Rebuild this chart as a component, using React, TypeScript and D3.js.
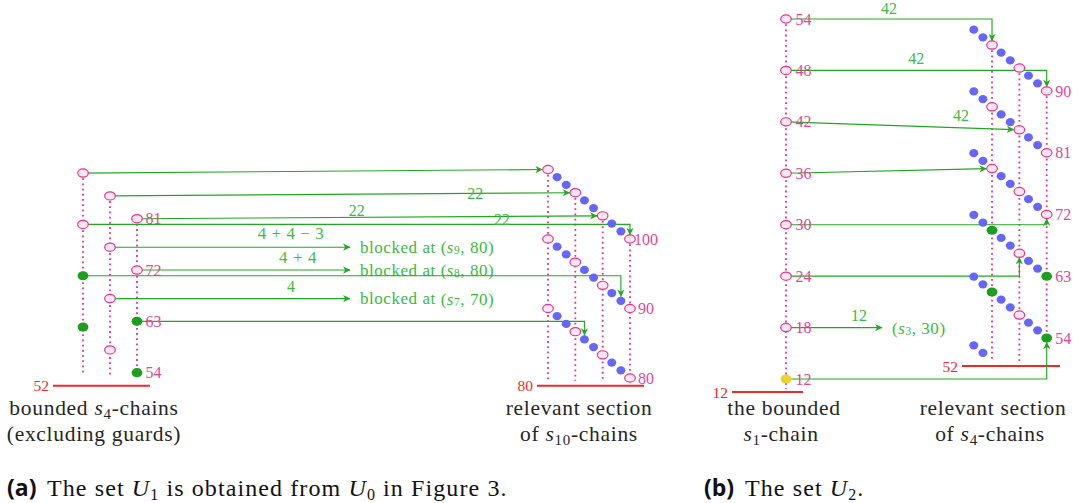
import React from "react";
import * as d3 from "d3";

// ---------------- Panel (a) data ----------------
// three bounded s4-chains (excluding guards), node values from top to bottom
const leftChainsA: number[][] = [
  [89, 80, 71, 62],
  [85, 76, 67, 58],
  [81, 72, 63, 54],
];
const leftFilledA: number[][] = [[71, 62], [], [63, 54]];
const leftLabeledA: number[] = [81, 72, 63, 54];
// relevant section of s10-chains (value at last column)
const s10ChainEndsA: number[] = [100, 90, 80];
const s10ColumnStepsA: number[] = [0, 3, 6, 9];
const s10StepCountA = 9;
const s10SpanA = 10;

type Arrow = {
  from: number[] | number;
  chain?: number;
  step?: number;
  kind: "direct" | "elbow" | "blocked";
  label: string;
  sub?: string;
  at?: string;
  prefix?: string;
};

const arrowsA: Arrow[] = [
  { from: [0, 89], chain: 100, step: 0, kind: "direct", label: "" },
  { from: [1, 85], chain: 100, step: 3, kind: "direct", label: "22" },
  { from: [2, 81], chain: 100, step: 6, kind: "direct", label: "22" },
  { from: [0, 80], chain: 100, step: 9, kind: "elbow", label: "22" },
  { from: [1, 76], kind: "blocked", label: "4 + 4 − 3", prefix: "blocked at ", sub: "9", at: "80" },
  { from: [2, 72], kind: "blocked", label: "4 + 4", prefix: "blocked at ", sub: "8", at: "80" },
  { from: [0, 71], chain: 90, step: 8, kind: "elbow", label: "" },
  { from: [1, 67], kind: "blocked", label: "4", prefix: "blocked at ", sub: "7", at: "70" },
  { from: [2, 63], chain: 80, step: 4, kind: "elbow", label: "" },
];
// label placement: fraction along the horizontal run, vertical offset
const labelPlaceA = [
  [0, 0], [0.785, 0], [0.472, -7], [0.766, -4.5],
  [0.754, -14], [0.756, -13], [0, 0], [0.754, -12], [0, 0],
];

// ---------------- Panel (b) data ----------------
const s1ChainB: number[] = [54, 48, 42, 36, 30, 24, 18, 12];
const s1FilledB: number[] = [12];
const s4ChainEndsB: number[] = [90, 81, 72, 63, 54];
const s4PartialEndB = 44;
const s4ColumnStepsB: number[] = [2, 5, 8];
const s4StepCountB = 8;
const s4StepDropB = 1.117;
const s4GreenB: Record<number, number[]> = { 63: [2, 8], 54: [2, 8] };

const arrowsB: Arrow[] = [
  { from: 54, chain: 90, step: 2, kind: "elbow", label: "42" },
  { from: 48, chain: 90, step: 8, kind: "elbow", label: "42" },
  { from: 42, chain: 81, step: 5, kind: "direct", label: "42" },
  { from: 36, chain: 72, step: 2, kind: "direct", label: "" },
  { from: 30, chain: 72, step: 8, kind: "elbow", label: "" },
  { from: 24, chain: 63, step: 5, kind: "elbow", label: "" },
  { from: 18, kind: "blocked", label: "12", prefix: "", sub: "3", at: "30" },
  { from: 12, chain: 54, step: 8, kind: "elbow", label: "" },
];
const labelPlaceB = [
  [0.5, -10.8], [0.5, -12.4], [0.75, -12.5], [0, 0], [0, 0], [0, 0], [0.76, -12], [0, 0],
];

// bounds (red lines)
const boundLabels = ["52", "80", "12", "52"];

// ---------------- styles ----------------
const PINK = "#e8308c";
const PINK_TXT = "#e54597";
const PINK_FILL = "#fce6f0";
const BLUE = "#6666fb";
const GREEN = "#1e9e1e";
const GREEN_LINE = "#20a820";
const GREEN_TXT = "#3dba3d";
const RED = "#f02828";
const YELLOW = "#ecd22e";
const TEXT = "#262626";
const SERIF = "Liberation Serif, DejaVu Serif, serif";

// ---------------- scales ----------------
const xLeftA = d3.scaleLinear().domain([0, 2]).range([83, 137]);
const yLeftA = d3.scaleLinear().domain([54, 81]).range([372.7, 218.7]);
const xStepA = d3.scaleLinear().domain([0, s10StepCountA]).range([548, 630]);
const yRightA = d3.scaleLinear().domain([80, 100]).range([378, 239]);

const xLeftB = 786;
const yLeftB = d3.scaleLinear().domain([12, 54]).range([379, 19]);
const xStepB = d3.scaleLinear().domain([0, s4StepCountB]).range([973.8, 1046.7]);
const yRightB = d3.scaleLinear().domain([54, 90]).range([338, 91]);

const boundLayout = [
  { x1: 53, x2: 150, y: 385.7 },
  { x1: 537, x2: 644, y: 385.7 },
  { x1: 732, x2: 803, y: 392 },
  { x1: 962, x2: 1060, y: 366 },
];

const R = { open: [5.3, 4.1], blue: [4.5, 4.1], green: [5.4, 4.6] };

function chainValA(end: number, step: number) {
  return end + ((s10StepCountA - step) * s10SpanA) / s10StepCountA;
}
function chainValB(end: number, step: number) {
  return end + (s4StepCountB - step) * s4StepDropB;
}

function Node({ x, y, kind }: { x: number; y: number; kind: string }) {
  if (kind === "open")
    return <ellipse cx={x} cy={y} rx={R.open[0]} ry={R.open[1]} fill={PINK_FILL} stroke={PINK} strokeWidth={1.2} />;
  if (kind === "blue") return <ellipse cx={x} cy={y} rx={R.blue[0]} ry={R.blue[1]} fill={BLUE} />;
  if (kind === "yellow") return <ellipse cx={x} cy={y} rx={R.green[0]} ry={R.green[1]} fill={YELLOW} />;
  return <ellipse cx={x} cy={y} rx={R.green[0]} ry={R.green[1]} fill={GREEN} />;
}

function Dotted({ x, y1, y2 }: { x: number; y1: number; y2: number }) {
  return <line x1={x} x2={x} y1={y1} y2={y2} stroke={PINK} strokeWidth={1.8} strokeDasharray="1.8 3.4" />;
}

function MathS({ sub, at }: { sub: string; at: string }) {
  return (
    <>
      <tspan>(</tspan>
      <tspan fontStyle="italic">s</tspan>
      <tspan fontSize="11.5" dy="3">{sub}</tspan>
      <tspan dy="-3">, {at})</tspan>
    </>
  );
}

type Pt = { x: number; y: number };
const GFS = 17;
const GLS = 0.55;

function ArrowPath({
  a, src, tgt, blockX, place,
}: { a: Arrow; src: Pt; tgt?: Pt; blockX?: number; place: number[] }) {
  let d = "";
  let lx = 0, ly = 0;
  const els: React.ReactNode[] = [];
  if (a.kind === "direct" && tgt) {
    const ex = tgt.x - R.open[0] - 0.3;
    const ey = src.y + ((tgt.y - src.y) * (ex - src.x)) / (tgt.x - src.x);
    d = `M${src.x},${src.y}L${ex},${ey}`;
    lx = src.x + place[0] * (tgt.x - src.x);
    ly = src.y + ((tgt.y - src.y) * (lx - src.x)) / (tgt.x - src.x) + place[1];
  } else if (a.kind === "elbow" && tgt) {
    const down = tgt.y > src.y;
    const ey = down ? tgt.y - 4.2 : tgt.y + 4.2;
    d = `M${src.x},${src.y}H${tgt.x}V${ey}`;
    lx = src.x + place[0] * (tgt.x - src.x);
    ly = src.y + place[1];
  } else if (a.kind === "blocked" && blockX !== undefined) {
    d = `M${src.x},${src.y}H${blockX}`;
    lx = src.x + place[0] * (blockX - src.x);
    ly = src.y + place[1];
    els.push(
      <text key="bt" x={blockX + 10} y={src.y} dominantBaseline="central" fontFamily={SERIF} fontSize={GFS} letterSpacing={GLS} fill={GREEN_TXT}>
        {a.prefix}
        <MathS sub={a.sub || ""} at={a.at || ""} />
      </text>
    );
  }
  return (
    <g>
      <path d={d} fill="none" stroke={GREEN_LINE} strokeWidth={1.15} markerEnd="url(#ah)" />
      {a.label && (
        <text x={lx} y={ly} textAnchor="middle" dominantBaseline="central" fontFamily={SERIF} fontSize={a.label.length > 2 ? GFS : 16} letterSpacing={a.label.length > 2 ? GLS : 0} fill={GREEN_TXT}>
          {a.label}
        </text>
      )}
      {els}
    </g>
  );
}

export default function App() {
  const kindA = (c: number, v: number) => (leftFilledA[c].includes(v) ? "green" : "open");

  // ---------- panel (a) ----------
  const dottedA = [
    ...leftChainsA.map((ch, c) => <Dotted key={"dl" + c} x={xLeftA(c)} y1={yLeftA(ch[0])} y2={yLeftA(53.6)} />),
    ...s10ColumnStepsA.map((s) => (
      <Dotted key={"dr" + s} x={xStepA(s)} y1={yRightA(chainValA(s10ChainEndsA[0], s))} y2={yRightA(79.6)} />
    )),
  ];

  const arrowElsA = arrowsA.map((a, i) => {
    const [c, v] = a.from as number[];
    const src = { x: xLeftA(c), y: yLeftA(v) };
    const tgt =
      a.chain !== undefined && a.step !== undefined
        ? { x: xStepA(a.step), y: yRightA(chainValA(a.chain, a.step)) }
        : undefined;
    return <ArrowPath key={"aa" + i} a={a} src={src} tgt={tgt} blockX={350} place={labelPlaceA[i]} />;
  });

  const nodesA: React.ReactNode[] = [];
  leftChainsA.forEach((ch, c) =>
    ch.forEach((v) => nodesA.push(<Node key={`la${c}-${v}`} x={xLeftA(c)} y={yLeftA(v)} kind={kindA(c, v)} />))
  );
  s10ChainEndsA.forEach((e) =>
    d3.range(0, s10StepCountA + 1).forEach((s) =>
      nodesA.push(
        <Node key={`ra${e}-${s}`} x={xStepA(s)} y={yRightA(chainValA(e, s))} kind={s10ColumnStepsA.includes(s) ? "open" : "blue"} />
      )
    )
  );

  const NFS = 16;
  const labelsA = [
    ...leftLabeledA.map((v) => (
      <text key={"ll" + v} x={xLeftA(2) + 8.5} y={yLeftA(v)} dominantBaseline="central" fontFamily={SERIF} fontSize={NFS} fill={PINK_TXT}>
        {v}
      </text>
    )),
    ...s10ChainEndsA.map((e) => (
      <text key={"rl" + e} x={xStepA(s10StepCountA) + (e >= 100 ? 4 : 8)} y={yRightA(e)} dominantBaseline="central" fontFamily={SERIF} fontSize={NFS} fill={PINK_TXT}>
        {e}
      </text>
    )),
  ];

  // ---------- panel (b) ----------
  const topB = s4ChainEndsB[0];
  const dottedB = [
    <Dotted key="dbl" x={xLeftB} y1={yLeftB(s1ChainB[0])} y2={yLeftB(10.8)} />,
    ...s4ColumnStepsB.map((s, i) => (
      <Dotted
        key={"dbr" + s}
        x={xStepB(s)}
        y1={yRightB(chainValB(topB, s))}
        y2={i === s4ColumnStepsB.length - 1 ? yRightB(s4ChainEndsB[s4ChainEndsB.length - 1]) : yRightB(50.5)}
      />
    )),
  ];

  const arrowElsB = arrowsB.map((a, i) => {
    const v = a.from as number;
    const src = { x: xLeftB, y: yLeftB(v) };
    const tgt =
      a.chain !== undefined && a.step !== undefined
        ? { x: xStepB(a.step), y: yRightB(chainValB(a.chain, a.step)) }
        : undefined;
    return <ArrowPath key={"ab" + i} a={a} src={src} tgt={tgt} blockX={882} place={labelPlaceB[i]} />;
  });

  const nodesB: React.ReactNode[] = [];
  s1ChainB.forEach((v) =>
    nodesB.push(<Node key={"lb" + v} x={xLeftB} y={yLeftB(v)} kind={s1FilledB.includes(v) ? "yellow" : "open"} />)
  );
  s4ChainEndsB.forEach((e) =>
    d3.range(0, s4StepCountB + 1).forEach((s) => {
      const kind = s4ColumnStepsB.includes(s) ? ((s4GreenB[e] || []).includes(s) ? "green" : "open") : "blue";
      nodesB.push(<Node key={`rb${e}-${s}`} x={xStepB(s)} y={yRightB(chainValB(e, s))} kind={kind} />);
    })
  );
  [0, 1].forEach((s) =>
    nodesB.push(<Node key={"pb" + s} x={xStepB(s)} y={yRightB(chainValB(s4PartialEndB, s))} kind="blue" />)
  );

  const labelsB = [
    ...s1ChainB.map((v) => (
      <text key={"lbl" + v} x={xLeftB + 9.5} y={yLeftB(v)} dominantBaseline="central" fontFamily={SERIF} fontSize={NFS} fill={PINK_TXT}>
        {v}
      </text>
    )),
    ...s4ChainEndsB.map((e) => (
      <text key={"rbl" + e} x={xStepB(s4StepCountB) + 8.5} y={yRightB(e)} dominantBaseline="central" fontFamily={SERIF} fontSize={NFS} fill={PINK_TXT}>
        {e}
      </text>
    )),
  ];

  const bounds = boundLayout.map((b, i) => (
    <g key={"bd" + i}>
      <line x1={b.x1} x2={b.x2} y1={b.y} y2={b.y} stroke={RED} strokeWidth={2} />
      <text x={b.x1 - 4} y={b.y} textAnchor="end" dominantBaseline="central" fontFamily={SERIF} fontSize={15.5} fill={RED}>
        {boundLabels[i]}
      </text>
    </g>
  ));

  const capFs = 24;
  const lblFs = 21.5;
  const SUB = 15;

  return (
    <svg width={1078} height={503} style={{ position: "absolute", left: 0, top: 0, background: "#fff" }}>
      <defs>
        <marker id="ah" viewBox="-8 -5 10 10" refX={0} refY={0} markerWidth={10} markerHeight={10} markerUnits="userSpaceOnUse" orient="auto">
          <path d="M0.5,0 L-7,-3.6 L-4.8,0 L-7,3.6 Z" fill={GREEN_LINE} />
        </marker>
      </defs>

      {dottedA}
      {dottedB}
      {bounds}
      {arrowElsA}
      {arrowElsB}
      {nodesA}
      {nodesB}
      {labelsA}
      {labelsB}

      {/* descriptive labels */}
      <g fontFamily={SERIF} fontSize={lblFs} fill={TEXT} textAnchor="middle" letterSpacing={0.7}>
        <text x={94} y={415}>
          bounded <tspan fontStyle="italic">s</tspan>
          <tspan fontSize={SUB} dy={4}>4</tspan>
          <tspan dy={-4}>-chains</tspan>
        </text>
        <text x={94} y={441}>(excluding guards)</text>
        <text x={579} y={415}>relevant section</text>
        <text x={579} y={441}>
          of <tspan fontStyle="italic">s</tspan>
          <tspan fontSize={SUB} dy={4}>10</tspan>
          <tspan dy={-4}>-chains</tspan>
        </text>
        <text x={784} y={415}>the bounded</text>
        <text x={781} y={441}>
          <tspan fontStyle="italic">s</tspan>
          <tspan fontSize={SUB} dy={4}>1</tspan>
          <tspan dy={-4}>-chain</tspan>
        </text>
        <text x={993} y={415}>relevant section</text>
        <text x={990} y={441}>
          of <tspan fontStyle="italic">s</tspan>
          <tspan fontSize={SUB} dy={4}>4</tspan>
          <tspan dy={-4}>-chains</tspan>
        </text>
      </g>

      {/* captions */}
      <text x={7} y={496} fontFamily="Open Sans, Noto Sans, sans-serif" fontWeight="bold" fontSize={23} fill="#111">
        (a)
      </text>
      <text x={47} y={496} fontFamily={SERIF} fontSize={capFs} letterSpacing={1.1} fill="#111">
        The set <tspan fontStyle="italic">U</tspan>
        <tspan fontSize={16} dy={4}>1</tspan>
        <tspan dy={-4}> is obtained from </tspan>
        <tspan fontStyle="italic">U</tspan>
        <tspan fontSize={16} dy={4}>0</tspan>
        <tspan dy={-4}> in Figure 3.</tspan>
      </text>
      <text x={704} y={496} fontFamily="Open Sans, Noto Sans, sans-serif" fontWeight="bold" fontSize={23} fill="#111">
        (b)
      </text>
      <text x={745} y={496} fontFamily={SERIF} fontSize={capFs} letterSpacing={1.1} fill="#111">
        The set <tspan fontStyle="italic">U</tspan>
        <tspan fontSize={16} dy={4}>2</tspan>
        <tspan dy={-4}>.</tspan>
      </text>
    </svg>
  );
}
